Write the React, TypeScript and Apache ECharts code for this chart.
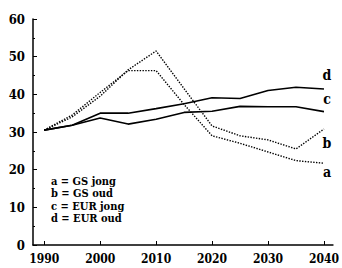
import React, { useEffect, useRef } from "react";
import * as echarts from "echarts";

const years = [1990, 1995, 2000, 2005, 2010, 2015, 2020, 2025, 2030, 2035, 2040];
const gsJong = [30.5, 34.5, 40.5, 46.3, 46.3, 37.3, 29.0, 27.0, 24.7, 22.4, 21.7];
const gsOud = [30.5, 34.0, 39.5, 46.5, 51.5, 41.5, 31.6, 29.0, 27.9, 25.5, 30.8];
const eurJong = [30.5, 31.8, 33.7, 32.1, 33.4, 35.2, 35.5, 36.8, 36.7, 36.7, 35.4];
const eurOud = [30.5, 31.8, 35.0, 35.0, 36.2, 37.5, 39.1, 38.9, 41.0, 41.9, 41.4];
const xTicks = [1990, 2000, 2010, 2020, 2030, 2040];
const legendLines = ["a = GS jong", "b = GS oud", "c = EUR jong", "d = EUR oud"];

const FONT = "DejaVu Serif Condensed, DejaVu Serif, serif";

export default function App() {
  const ref = useRef<HTMLDivElement>(null);
  useEffect(() => {
    if (!ref.current) return;
    const chart = echarts.init(ref.current, undefined, { renderer: "svg" });
    const mk = (d: number[]) => years.map((y, i) => [y, d[i]]);
    const dotted = { color: "#000", width: 1.4, type: [1.4, 1.4] as any };
    const solid = { color: "#000", width: 1.6, type: "solid" as const };
    chart.setOption({
      animation: false,
      backgroundColor: "#fff",
      textStyle: { fontFamily: FONT },
      grid: { left: 33, right: 1, top: 19, bottom: 23, containLabel: false },
      xAxis: {
        type: "value",
        min: 1988,
        max: 2041.6,
        axisLine: { show: true, lineStyle: { color: "#000", width: 1.5 } },
        axisTick: { show: true, inside: true, length: 4, customValues: xTicks, lineStyle: { color: "#000" } },
        axisLabel: {
          customValues: xTicks,
          formatter: (v: number) => String(v),
          color: "#000",
          fontFamily: FONT,
          fontWeight: "bold",
          fontSize: 12,
          margin: 8,
        },
        splitLine: { show: false },
      },
      yAxis: {
        type: "value",
        min: 0,
        max: 60,
        interval: 10,
        axisLine: { show: true, lineStyle: { color: "#000", width: 1.5 } },
        axisTick: { show: true, inside: true, length: 4, lineStyle: { color: "#000" } },
        minorTick: { show: true, splitNumber: 2, length: 2, lineStyle: { color: "#000" } },
        axisLabel: {
          color: "#000",
          fontFamily: FONT,
          fontWeight: "bold",
          fontSize: 13,
          margin: 8,
        },
        splitLine: { show: false },
      },
      series: [
        { name: "a", type: "line", data: mk(gsJong), symbol: "none", lineStyle: dotted },
        { name: "b", type: "line", data: mk(gsOud), symbol: "none", lineStyle: dotted },
        { name: "c", type: "line", data: mk(eurJong), symbol: "none", lineStyle: solid },
        { name: "d", type: "line", data: mk(eurOud), symbol: "none", lineStyle: solid },
      ],
      graphic: [
        ...legendLines.map((t, i) => ({
          type: "text",
          left: 51,
          top: 175.5 + i * 12.3,
          style: {
            text: t,
            fill: "#000",
            fontFamily: FONT,
            fontWeight: "bold",
            fontSize: 11,
            lineHeight: 12,
          },
        })),
        ...[
          ["d", 75],
          ["c", 99],
          ["b", 143],
          ["a", 172],
        ].map(([t, y]) => ({
          type: "text",
          x: 327,
          y: y as number,
          style: {
            text: t as string,
            fill: "#000",
            fontFamily: FONT,
            fontWeight: "bold",
            fontSize: 14,
            align: "center",
            verticalAlign: "middle",
          },
        })),
      ],
    });
    return () => chart.dispose();
  }, []);
  return (
    <div
      ref={ref}
      style={{ position: "fixed", left: 0, top: 0, width: 342, height: 268, background: "#fff" }}
    />
  );
}
